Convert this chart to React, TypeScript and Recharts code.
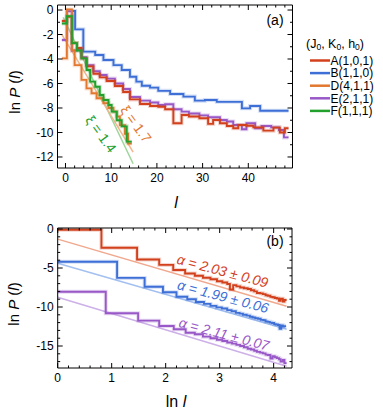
import { Line, LineChart, XAxis, YAxis } from 'recharts'

// ---- panel (a): ln P(l) against l. Each step starts at an edge and holds its value to the next edge.
const A_EDGES = [-0.8, 0.3, 1.4, 2.5, 3.5, 4.6, 6.1, 7.5, 9.0, 10.8, 12.6, 14.1, 16.3, 18.5, 20.3, 21.8, 23.6, 25.4, 27.0, 29.3, 31.2, 32.3, 33.8, 35.3, 36.7, 37.8, 39.6, 41.1, 43.3, 45.5, 46.9, 48.0]
const A_VALS = [-0.9, -0.55, -2.7, -3.1, -3.95, -4.6, -5.2, -5.5, -5.8, -6.2, -6.7, -7.3, -7.67, -7.84, -7.9, -8.1, -9.25, -8.57, -8.7, -8.84, -9.3, -8.98, -9.25, -9.47, -9.66, -9.39, -9.45, -9.58, -9.85, -9.6, -10.0, -9.66]
const B_EDGES = [1.4, 2.1, 3.9, 6.5, 8.3, 10.5, 12.3, 14.1, 15.5, 16.7, 18.5, 20.3, 22.9, 25.8, 28.3, 30.5, 33.1, 38.6, 40.4, 42.6]
const B_VALS = [-0.08, -1.58, -3.4, -3.67, -4.08, -4.5, -4.9, -5.45, -5.85, -6.18, -6.34, -6.6, -6.86, -7.07, -7.4, -7.35, -7.5, -8.03, -7.84, -8.22]
const D_EDGES = [-0.8, 0.3, 1.4, 2.0, 3.5, 4.6, 5.7, 6.8, 8.3, 9.4, 10.5, 11.2, 11.9, 13.0, 13.7]
const D_VALS = [-3.95, 0.05, -3.3, -4.5, -5.7, -6.4, -6.8, -7.2, -7.6, -8.0, -8.3, -8.7, -9.4, -10.1, -10.9]
const E_EDGES = [-0.8, 0.3, 1.4, 2.5, 3.5, 4.6, 6.1, 7.5, 9.0, 10.8, 12.6, 14.1, 16.3, 18.5, 20.3, 21.8, 23.6, 25.4, 27.0, 29.3, 31.2, 33.8, 35.3, 36.7, 38.6, 39.6, 41.5, 42.9, 45.0, 46.7, 47.8]
const E_VALS = [-2.45, -0.1, -3.3, -3.2, -3.85, -4.5, -5.0, -5.3, -5.6, -6.0, -6.45, -7.1, -7.4, -7.55, -7.75, -7.7, -8.1, -8.3, -8.45, -8.6, -8.75, -8.98, -9.1, -9.39, -9.74, -9.25, -9.66, -9.47, -9.58, -9.8, -10.4]
const F_EDGES = [-0.8, 0.3, 1.4, 2.5, 3.5, 4.6, 5.4, 6.5, 7.5, 8.3, 9.4, 10.1, 11.2, 12.3, 13.4]
const F_VALS = [-1.1, -0.5, -2.7, -3.3, -3.95, -4.9, -5.85, -6.26, -6.94, -7.35, -7.76, -8.3, -9.0, -9.5, -10.75]
const A_END = 48.8
const B_END = 48.8
const D_END = 14.5
const E_END = 48.8
const F_END = 14.5

// exponential fits drawn in panel (a)
const FIT_F_L = [-0.5, 14.8]
const FIT_F_V = [-0.6, -12.55]
const FIT_D_L = [-0.8, 14.8]
const FIT_D_V = [-2.0, -11.6]

// ---- panel (b): ln P against ln l (curves shifted apart)
const RB_EDGES = [0, 0.81, 1.47, 1.88, 2.14, 2.36, 2.54, 2.69, 2.83, 2.95, 3.05, 3.14, 3.19, 3.25, 3.31, 3.38, 3.45, 3.52, 3.58, 3.64, 3.69, 3.75, 3.8, 3.85, 3.89, 3.94, 3.98, 4.02, 4.06, 4.1, 4.13, 4.17, 4.2]
const RB_VALS = [-0.1, -2.4, -3.9, -4.6, -5.26, -5.7, -6.0, -6.25, -6.45, -6.7, -6.85, -7.05, -7.75, -7.2, -7.35, -7.5, -7.6, -7.7, -7.85, -8.0, -8.2, -8.25, -8.35, -8.5, -8.55, -8.7, -8.75, -8.85, -8.9, -9.2, -8.95, -9.3, -9.1]
const BB_EDGES = [0, 1.1, 1.61, 1.95, 2.2, 2.4, 2.56, 2.71, 2.83, 2.94, 3.04, 3.14, 3.22, 3.3, 3.37, 3.43, 3.5, 3.56, 3.61, 3.66, 3.71, 3.76, 3.81, 3.85, 3.89, 3.93, 3.97, 4.01, 4.04, 4.08, 4.11, 4.14, 4.17, 4.2]
const BB_VALS = [-4.19, -6.27, -7.4, -8.1, -8.68, -9.0, -9.35, -9.6, -9.85, -10.05, -10.2, -10.4, -10.55, -10.75, -10.85, -11.0, -11.1, -11.25, -11.35, -11.45, -11.5, -11.65, -11.7, -11.85, -11.9, -12.0, -12.05, -12.2, -12.25, -12.3, -12.8, -12.35, -12.5, -12.45]
const EB_EDGES = [0, 0.89, 1.49, 1.88, 2.15, 2.37, 2.54, 2.69, 2.83, 2.95, 3.05, 3.14, 3.23, 3.31, 3.38, 3.45, 3.52, 3.58, 3.64, 3.69, 3.75, 3.8, 3.85, 3.89, 3.94, 3.98, 4.02, 4.06, 4.1, 4.13, 4.17, 4.2]
const EB_VALS = [-8.04, -10.8, -11.75, -12.44, -12.86, -13.3, -13.5, -13.8, -14.0, -14.2, -14.35, -14.55, -14.7, -14.85, -15.0, -15.15, -15.35, -15.45, -15.6, -15.75, -15.85, -15.95, -16.1, -16.15, -16.6, -16.3, -16.45, -16.55, -16.7, -17.0, -16.8, -17.2]
const RB_END = 4.24
const BB_END = 4.23
const EB_END = 4.24

const FIT_R_X = [0, 4.24]
const FIT_R_Y = [-1.3, -9.9]
const FIT_B_X = [0, 4.24]
const FIT_B_Y = [-4.4, -12.85]
const FIT_E_X = [0, 4.24]
const FIT_E_Y = [-8.76, -17.6]

// ticks
const A_XMAJOR = [0, 10, 20, 30, 40]
const A_YMAJOR = [0, -2, -4, -6, -8, -10, -12]
const B_XMAJOR = [0, 1, 2, 3, 4]
const B_YMAJOR = [0, -5, -10, -15]

const LEGEND_NAMES = ['A(1,0,1)', 'B(1,1,0)', 'D(4,1,1)', 'E(2,1,1)', 'F(1,1,1)']
const ALPHA_TEXT = ['α = 2.03 ± 0.09', 'α = 1.99 ± 0.06', 'α = 2.11 ± 0.07']

const C = {
  red: '#d2401c',
  blue: '#3d6fd6',
  orange: '#e2782f',
  purple: '#9858c8',
  green: '#22a02c',
}
const LIGHT = {
  red: '#f0a88e',
  blue: '#a3c0f0',
  orange: '#f2b68c',
  purple: '#cdb0e8',
  green: '#9ed69c',
}
const LEGEND_COLORS = [C.red, C.blue, C.orange, C.purple, C.green]
const FONT = '"Liberation Sans", Arial, Helvetica, sans-serif'

type Pt = { x: number; y: number }

const steps = (edges: number[], vals: number[], end: number): Pt[] => [
  ...edges.map((x, i) => ({ x, y: vals[i] })),
  { x: end, y: vals[vals.length - 1] },
]
const pts = (xs: number[], ys: number[]): Pt[] => xs.map((x, i) => ({ x, y: ys[i] }))

const range = (from: number, to: number, step: number) => {
  const out: number[] = []
  for (let v = from; v <= to + 1e-9; v += step) out.push(Math.round(v * 100) / 100)
  return out
}

const A_XTICKS = range(0, 48, 2)
const A_YTICKS = range(-12, 0, 1)
const B_XTICKS = range(0, 4.2, 0.2)
const B_YTICKS = range(-17, 0, 1)

type Side = 'bottom' | 'top' | 'left' | 'right'

function makeTick(side: Side, majors: number[], labels: boolean) {
  return (p: any) => {
    const { x, y, payload } = p
    const v = payload.value as number
    const major = majors.some((m) => Math.abs(m - v) < 1e-6)
    const len = major ? 5 : 2.5
    let line
    if (side === 'bottom') line = <line x1={x} y1={y} x2={x} y2={y - len} stroke="#000" />
    else if (side === 'top') line = <line x1={x} y1={y} x2={x} y2={y + len} stroke="#000" />
    else if (side === 'left') line = <line x1={x} y1={y} x2={x + len} y2={y} stroke="#000" />
    else line = <line x1={x} y1={y} x2={x - len} y2={y} stroke="#000" />
    return (
      <g>
        {line}
        {labels && major && side === 'bottom' && (
          <text x={x} y={y + 14} textAnchor="middle" fontSize={12} fontFamily={FONT} fill="#000">
            {v}
          </text>
        )}
        {labels && major && side === 'left' && (
          <text x={x - 4} y={y + 4.3} textAnchor="end" fontSize={12} fontFamily={FONT} fill="#000">
            {v}
          </text>
        )}
      </g>
    )
  }
}

function StepSeries(key: string, data: Pt[], color: string) {
  return [
    <Line key={key + 'h'} data={data} dataKey="y" xAxisId="b" yAxisId="l" type="stepAfter" stroke={color} strokeOpacity={0.22} strokeWidth={4} dot={false} isAnimationActive={false} />,
    <Line key={key} data={data} dataKey="y" xAxisId="b" yAxisId="l" type="stepAfter" stroke={color} strokeWidth={1.9} dot={false} isAnimationActive={false} />,
  ]
}

function FitLine(key: string, data: Pt[], color: string) {
  return <Line key={key} data={data} dataKey="y" xAxisId="b" yAxisId="l" type="linear" stroke={color} strokeWidth={1.5} dot={false} isAnimationActive={false} />
}

function Axes(xDomain: number[], yDomain: number[], xTicks: number[], yTicks: number[], xMaj: number[], yMaj: number[], leftW: number) {
  return [
    <XAxis key="xb" xAxisId="b" dataKey="x" type="number" domain={xDomain} allowDataOverflow ticks={xTicks} interval={0} height={32} tickSize={0} tickMargin={0} tickLine={false} stroke="#000" tick={makeTick('bottom', xMaj, true)} />,
    <XAxis key="xt" xAxisId="t" dataKey="x" type="number" orientation="top" domain={xDomain} allowDataOverflow ticks={xTicks} interval={0} height={1} tickSize={0} tickMargin={0} tickLine={false} stroke="#000" tick={makeTick('top', xMaj, false)} />,
    <YAxis key="yl" yAxisId="l" type="number" domain={yDomain} allowDataOverflow ticks={yTicks} interval={0} width={leftW} tickSize={0} tickMargin={0} tickLine={false} stroke="#000" tick={makeTick('left', yMaj, true)} />,
    <YAxis key="yr" yAxisId="r" type="number" orientation="right" domain={yDomain} allowDataOverflow ticks={yTicks} interval={0} width={1} tickSize={0} tickMargin={0} tickLine={false} stroke="#000" tick={makeTick('right', yMaj, false)} />,
  ]
}

function PanelA() {
  return (
    <LineChart width={300} height={200} margin={{ top: 4, right: 6.5, bottom: 0, left: 0 }}>
      {Axes([-1.75, 49.67], [-12.9, 0.41], A_XTICKS, A_YTICKS, A_XMAJOR, A_YMAJOR, 57.5)}
      {FitLine('fitF', pts(FIT_F_L, FIT_F_V), LIGHT.green)}
      {FitLine('fitD', pts(FIT_D_L, FIT_D_V), LIGHT.orange)}
      {StepSeries('B', steps(B_EDGES, B_VALS, B_END), C.blue)}
      {StepSeries('E', steps(E_EDGES, E_VALS, E_END), C.purple)}
      {StepSeries('A', steps(A_EDGES, A_VALS, A_END), C.red)}
      {StepSeries('D', steps(D_EDGES, D_VALS, D_END), C.orange)}
      {StepSeries('F', steps(F_EDGES, F_VALS, F_END), C.green)}
    </LineChart>
  )
}

function PanelB() {
  return (
    <LineChart width={300} height={180} margin={{ top: 7, right: 7, bottom: 0, left: 0 }}>
      {Axes([0, 4.34], [-17.82, 0.13], B_XTICKS, B_YTICKS, B_XMAJOR, B_YMAJOR, 57.7)}
      {FitLine('fitR', pts(FIT_R_X, FIT_R_Y), LIGHT.red)}
      {FitLine('fitB', pts(FIT_B_X, FIT_B_Y), LIGHT.blue)}
      {FitLine('fitE', pts(FIT_E_X, FIT_E_Y), LIGHT.purple)}
      {StepSeries('R', steps(RB_EDGES, RB_VALS, RB_END), C.red)}
      {StepSeries('Bl', steps(BB_EDGES, BB_VALS, BB_END), C.blue)}
      {StepSeries('Pu', steps(EB_EDGES, EB_VALS, EB_END), C.purple)}
    </LineChart>
  )
}

function LnP({ x, y }: { x: number; y: number }) {
  return (
    <text transform={`translate(${x},${y}) rotate(-90)`} textAnchor="middle" fontSize={15} fontFamily={FONT} fill="#000">
      ln <tspan fontStyle="italic">P</tspan> (<tspan fontStyle="italic">l</tspan>)
    </text>
  )
}

function Overlay() {
  const sub = { fontSize: 8.5, dy: 2.5 }
  return (
    <svg width={383} height={417} style={{ position: 'absolute', left: 0, top: 0, pointerEvents: 'none' }}>
      <LnP x={20} y={92} />
      <LnP x={19} y={304} />
      <text x={176} y={208} textAnchor="middle" fontSize={16} fontStyle="italic" fontFamily={FONT}>l</text>
      <text x={176} y={407} textAnchor="middle" fontSize={16} fontFamily={FONT}>
        ln <tspan fontStyle="italic">l</tspan>
      </text>
      <text x={275} y={25} textAnchor="middle" fontSize={14} fontFamily={FONT}>(a)</text>
      <text x={275} y={246} textAnchor="middle" fontSize={14} fontFamily={FONT}>(b)</text>

      <text transform="translate(101,134) rotate(54)" textAnchor="middle" dy="0.35em" fontSize={14} fontFamily={FONT} fill={C.green}>ξ = 1.4</text>
      <text transform="translate(136,124) rotate(54)" textAnchor="middle" dy="0.35em" fontSize={14} fontFamily={FONT} fill={C.orange}>ξ = 1.7</text>

      {ALPHA_TEXT.map((t, i) => {
        const pos = [[222.5, 271], [223, 296.5], [224, 334]][i]
        const col = [C.red, C.blue, C.purple][i]
        return (
          <text key={t} transform={`translate(${pos[0]},${pos[1]}) rotate(15)`} textAnchor="middle" dy="0.35em" fontSize={14} fontStyle="italic" fontFamily={FONT} fill={col}>
            {t}
          </text>
        )
      })}

      <text x={306} y={47.5} fontSize={12.5} fontFamily={FONT}>
        (J<tspan {...sub}>0</tspan>
        <tspan dy={-2.5}>, K</tspan>
        <tspan {...sub}>0</tspan>
        <tspan dy={-2.5}>, h</tspan>
        <tspan {...sub}>0</tspan>
        <tspan dy={-2.5}>)</tspan>
      </text>
      {LEGEND_NAMES.map((n, i) => {
        const cy = 60.5 + i * 12.6
        return (
          <g key={n}>
            <line x1={310} x2={330} y1={cy} y2={cy} stroke={LEGEND_COLORS[i]} strokeWidth={2.5} />
            <text x={330.5} y={cy + 4.2} fontSize={12} fontFamily={FONT}>{n}</text>
          </g>
        )
      })}
    </svg>
  )
}

export default function App() {
  return (
    <div style={{ position: 'absolute', left: 0, top: 0, width: 383, height: 417, background: '#fff', fontFamily: FONT }}>
      <div style={{ position: 'absolute', left: 0, top: 0 }}>
        <PanelA />
      </div>
      <div style={{ position: 'absolute', left: 0, top: 220 }}>
        <PanelB />
      </div>
      <Overlay />
    </div>
  )
}
